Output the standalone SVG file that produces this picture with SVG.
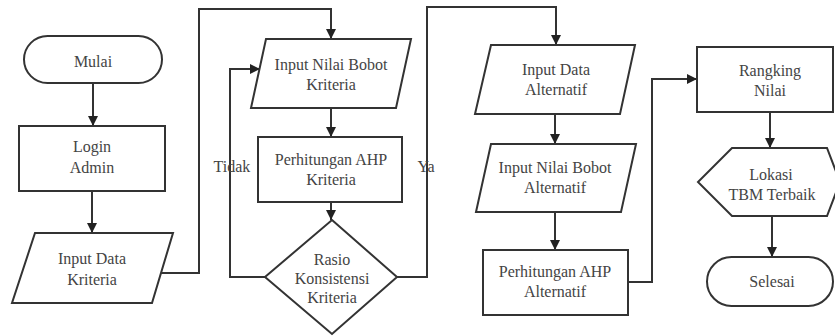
<svg xmlns="http://www.w3.org/2000/svg" width="835" height="336" viewBox="0 0 835 336" font-family="'Liberation Serif', serif" font-size="16">
<defs>
<marker id="arr" viewBox="0 0 10 10" refX="10" refY="5" markerWidth="10" markerHeight="10" markerUnits="userSpaceOnUse" orient="auto">
<path d="M0,0 L10,5 L0,10 z" fill="#222"/>
</marker>
<style>
.s{fill:#fff;stroke:#333;stroke-width:2}
.c{fill:none;stroke:#333;stroke-width:2;marker-end:url(#arr)}
text{font-family:'Liberation Serif',serif;font-size:16px;fill:#444;text-anchor:middle}
</style>
</defs>
<rect width="835" height="336" fill="#fff"/>
<g id="connectors">
<path class="c" d="M93,83 V126"/>
<path class="c" d="M92,191 V233"/>
<path class="c" d="M161,273 H199 V9 H331 V39"/>
<path class="c" d="M331,108 V137"/>
<path class="c" d="M331,202 V220"/>
<path class="c" d="M265,277 H230 V69 H260"/>
<path class="c" d="M397,277 H427 V7 H556 V45"/>
<path class="c" d="M555,114 V144"/>
<path class="c" d="M555,212 V250"/>
<path class="c" d="M628,282 H652 V79 H697"/>
<path class="c" d="M770,112 V148"/>
<path class="c" d="M772,216 V257"/>
<text x="232" y="172">Tidak</text>
<text x="426" y="172">Ya</text>
</g>
<g id="mulai">
<rect class="s" x="24" y="36" width="138" height="47" rx="23.5"/>
<text x="93" y="67">Mulai</text>
</g>
<g id="login">
<rect class="s" x="19" y="126" width="146" height="65"/>
<text x="92" y="152">Login</text>
<text x="92" y="173">Admin</text>
</g>
<g id="input-data-kriteria">
<polygon class="s" points="35,233 173,233 152,303 12,303"/>
<text x="92" y="264">Input Data</text>
<text x="92" y="285">Kriteria</text>
</g>
<g id="input-nilai-bobot-kriteria">
<polygon class="s" points="266,39 411,39 396,108 251,108"/>
<text x="331" y="70">Input Nilai Bobot</text>
<text x="331" y="90">Kriteria</text>
</g>
<g id="perhitungan-ahp-kriteria">
<rect class="s" x="258" y="137" width="144" height="65"/>
<text x="331" y="165">Perhitungan AHP</text>
<text x="331" y="185">Kriteria</text>
</g>
<g id="rasio-konsistensi">
<polygon class="s" points="332,220 397,277 332,334 265,277"/>
<text x="332" y="265">Rasio</text>
<text x="332" y="284">Konsistensi</text>
<text x="332" y="303">Kriteria</text>
</g>
<g id="input-data-alternatif">
<polygon class="s" points="491,45 635,45 620,114 475,114"/>
<text x="556" y="75">Input Data</text>
<text x="556" y="95">Alternatif</text>
</g>
<g id="input-nilai-bobot-alternatif">
<polygon class="s" points="491,144 636,144 621,212 476,212"/>
<text x="555" y="173">Input Nilai Bobot</text>
<text x="555" y="193">Alternatif</text>
</g>
<g id="perhitungan-ahp-alternatif">
<rect class="s" x="483" y="250" width="145" height="65"/>
<text x="555" y="277">Perhitungan AHP</text>
<text x="555" y="297">Alternatif</text>
</g>
<g id="rangking-nilai">
<rect class="s" x="697" y="47" width="136" height="65"/>
<text x="770" y="76">Rangking</text>
<text x="770" y="96">Nilai</text>
</g>
<g id="lokasi-tbm">
<polygon class="s" points="732,148 827,148 840,182 827,216 732,216 698,182"/>
<text x="771" y="180">Lokasi</text>
<text x="772" y="200">TBM Terbaik</text>
</g>
<g id="selesai">
<rect class="s" x="707" y="257" width="126" height="49" rx="24.5"/>
<text x="772" y="287">Selesai</text>
</g>
</svg>
